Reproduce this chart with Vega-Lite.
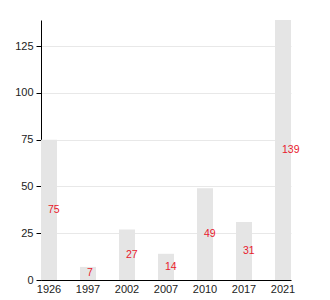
{
  "$schema": "https://vega.github.io/schema/vega-lite/v6.json",
  "width": 250,
  "height": 260,
  "autosize": "none",
  "padding": {"left": 41, "top": 20, "right": 39, "bottom": 20},
  "config": {
    "view": {"stroke": null},
    "font": "Liberation Sans",
    "axis": {"labelFont": "Liberation Sans", "labelFontSize": 11, "labelColor": "#222", "domainColor": "#000", "tickColor": "#000", "gridColor": "#e8e8e8"}
  },
  "data": {"values": [
    {"year": "1926", "value": 75},
    {"year": "1997", "value": 7},
    {"year": "2002", "value": 27},
    {"year": "2007", "value": 14},
    {"year": "2010", "value": 49},
    {"year": "2017", "value": 31},
    {"year": "2021", "value": 139}
  ]},
  "encoding": {
    "x": {"field": "year", "type": "nominal", "sort": null,
      "scale": {"paddingInner": 0.59, "paddingOuter": 0, "align": 0.5},
      "axis": {"title": null, "labelAngle": 0, "ticks": false, "labelPadding": 3}}
  },
  "layer": [
    {"mark": {"type": "bar", "color": "#e5e5e5"},
      "encoding": {
        "y": {"field": "value", "type": "quantitative",
          "scale": {"domain": [0, 139], "nice": false},
          "axis": {"title": null, "values": [0, 25, 50, 75, 100, 125], "grid": true, "tickSize": 5, "labelPadding": 3}}
      }},
    {"mark": {"type": "text", "color": "#e8192c", "fontSize": 10.5, "align": "left", "dx": -1, "baseline": "middle"},
      "encoding": {
        "y": {"field": "value", "type": "quantitative",
          "scale": {"domain": [0, 278], "nice": false}, "axis": null},
        "text": {"field": "value", "type": "quantitative"}
      }}
  ],
  "resolve": {"scale": {"y": "independent"}}
}
